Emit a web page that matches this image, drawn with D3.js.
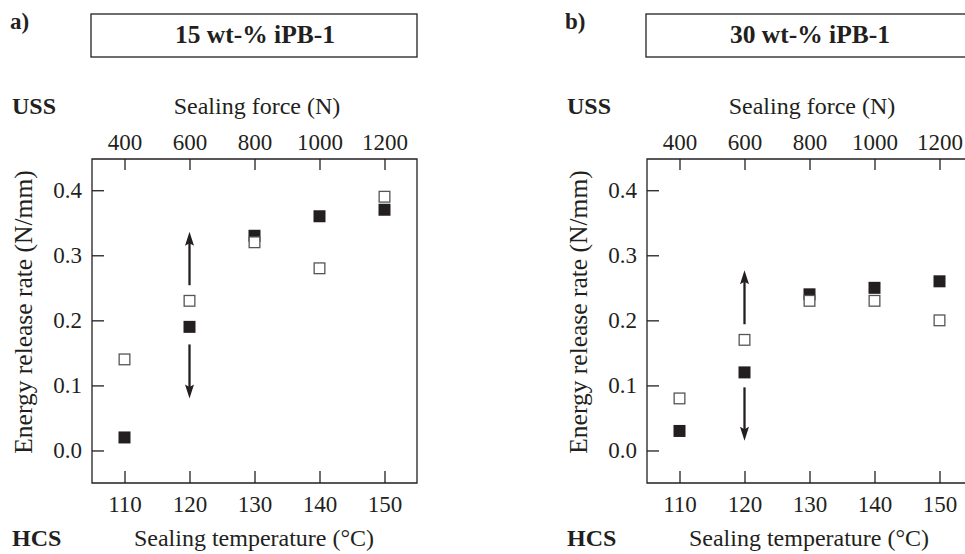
<!DOCTYPE html>
<html>
<head>
<meta charset="utf-8">
<script src="https://cdn.jsdelivr.net/npm/d3@7"></script>
<style>
  body { margin: 0; background: #fff; }
  svg { display: block; font-family: "Liberation Serif", "DejaVu Serif", serif; }
</style>
</head>
<body>
<div id="chart"></div>
<script>
// data (energy release rate, N/mm)
const temps = [110, 120, 130, 140, 150];
const forceTicks = [400, 600, 800, 1000, 1200];
const energyTicks = [0, 0.1, 0.2, 0.3, 0.4];

// panel a) 15 wt-% iPB-1
const hcs15 = [0.02, 0.19, 0.33, 0.36, 0.37];   // filled squares
const uss15 = [0.14, 0.23, 0.32, 0.28, 0.39];   // open squares
// arrows at 120 °C: [from, tip]
const arrows15 = [[0.254, 0.336], [0.163, 0.080]];

// panel b) 30 wt-% iPB-1
const hcs30 = [0.03, 0.12, 0.24, 0.25, 0.26];
const uss30 = [0.08, 0.17, 0.23, 0.23, 0.20];
const arrows30 = [[0.194, 0.277], [0.097, 0.015]];

const panels = [
    { tag: "a)", title: "15 wt-% iPB-1", filled: hcs15, open: uss15, arrows: arrows15, dx: 0 },
    { tag: "b)", title: "30 wt-% iPB-1", filled: hcs30, open: uss30, arrows: arrows30, dx: 555 }
];

const ink = "#231f20";
const W = 965, H = 554;

const svg = d3.select("#chart").append("svg")
    .attr("width", W)
    .attr("height", H);

svg.append("rect").attr("width", W).attr("height", H).attr("fill", "#fff");

function drawPanel(p) {
    const g = svg.append("g").attr("transform", `translate(${p.dx},0)`);

    const x = d3.scaleLinear().domain([105, 155]).range([92, 417]);
    const xTop = d3.scaleLinear().domain([300, 1300]).range([92, 417]);
    const y = d3.scaleLinear().domain([-0.05, 0.448]).range([483, 159]);

    // tag and title box
    g.append("text").attr("x", 10).attr("y", 29)
        .attr("font-size", 23).attr("font-weight", "bold").attr("fill", ink)
        .text(p.tag);
    g.append("rect").attr("x", 91).attr("y", 14).attr("width", 326).attr("height", 43)
        .attr("fill", "none").attr("stroke", ink).attr("stroke-width", 1.3);
    g.append("text").attr("x", 255).attr("y", 43).attr("text-anchor", "middle")
        .attr("font-size", 25.5).attr("font-weight", "bold").attr("fill", ink)
        .text(p.title);

    // axes, ticks pointing inward
    const bottom = g.append("g").attr("transform", "translate(0,483)")
        .call(d3.axisBottom(x).tickValues(temps).tickSize(-12).tickPadding(13).tickFormat(d3.format("d")));
    const top = g.append("g").attr("transform", "translate(0,159)")
        .call(d3.axisTop(xTop).tickValues(forceTicks).tickSize(-11).tickPadding(9).tickFormat(d3.format("d")));
    const left = g.append("g").attr("transform", "translate(92,0)")
        .call(d3.axisLeft(y).tickValues(energyTicks).tickSize(-12).tickPadding(10).tickFormat(d3.format(".1f")));

    [bottom, top, left].forEach(a => {
        a.select(".domain").remove();
        a.selectAll("line").attr("stroke", ink).attr("stroke-width", 1.3);
        a.selectAll("text").attr("font-family", "Liberation Serif").attr("font-size", 23).attr("fill", ink);
    });

    // frame
    g.append("path")
        .attr("d", `M417,159 H92 V483 H417 Z`)
        .attr("fill", "none").attr("stroke", ink).attr("stroke-width", 1.3);

    // axis titles
    g.append("text").attr("x", 12).attr("y", 114)
        .attr("font-size", 24).attr("font-weight", "bold").attr("fill", ink).text("USS");
    g.append("text").attr("x", 257).attr("y", 114).attr("text-anchor", "middle")
        .attr("font-size", 24).attr("fill", ink).text("Sealing force (N)");
    g.append("text").attr("x", 12).attr("y", 546)
        .attr("font-size", 24).attr("font-weight", "bold").attr("fill", ink).text("HCS");
    g.append("text").attr("x", 254).attr("y", 546).attr("text-anchor", "middle")
        .attr("font-size", 24).attr("fill", ink).text("Sealing temperature (°C)");
    g.append("text")
        .attr("transform", "translate(32,312) rotate(-90)")
        .attr("text-anchor", "middle")
        .attr("font-size", 25.5).attr("fill", ink)
        .text("Energy release rate (N/mm)");

    // arrows at 120 °C: shaft + triangular head
    const ax = x(120);
    const headLen = 14, headHalf = 4.5;
    p.arrows.forEach(d => {
        const y0 = y(d[0]), tip = y(d[1]);
        const dir = tip < y0 ? -1 : 1;
        g.append("line")
            .attr("x1", ax).attr("x2", ax)
            .attr("y1", y0).attr("y2", tip - dir * (headLen - 3))
            .attr("stroke", ink).attr("stroke-width", 2.3);
        const base = tip - dir * headLen;
        g.append("path")
            .attr("d", `M${ax},${tip} L${ax - headHalf},${base} L${ax},${base + dir * 2.5} L${ax + headHalf},${base} Z`)
            .attr("fill", ink);
    });

    const s = 12;
    // filled squares first, open squares drawn over them
    g.selectAll(".filled").data(p.filled).enter().append("rect")
        .attr("class", "filled")
        .attr("x", (d, i) => x(temps[i]) - s / 2)
        .attr("y", d => y(d) - s / 2)
        .attr("width", s).attr("height", s)
        .attr("fill", ink);

    g.selectAll(".open").data(p.open).enter().append("rect")
        .attr("class", "open")
        .attr("x", (d, i) => x(temps[i]) - s / 2 + 0.65)
        .attr("y", d => y(d) - s / 2 + 0.65)
        .attr("width", s - 1.3).attr("height", s - 1.3)
        .attr("fill", "#fff").attr("stroke", "#555").attr("stroke-width", 1.3);
}

panels.forEach(drawPanel);
</script>
</body>
</html>
